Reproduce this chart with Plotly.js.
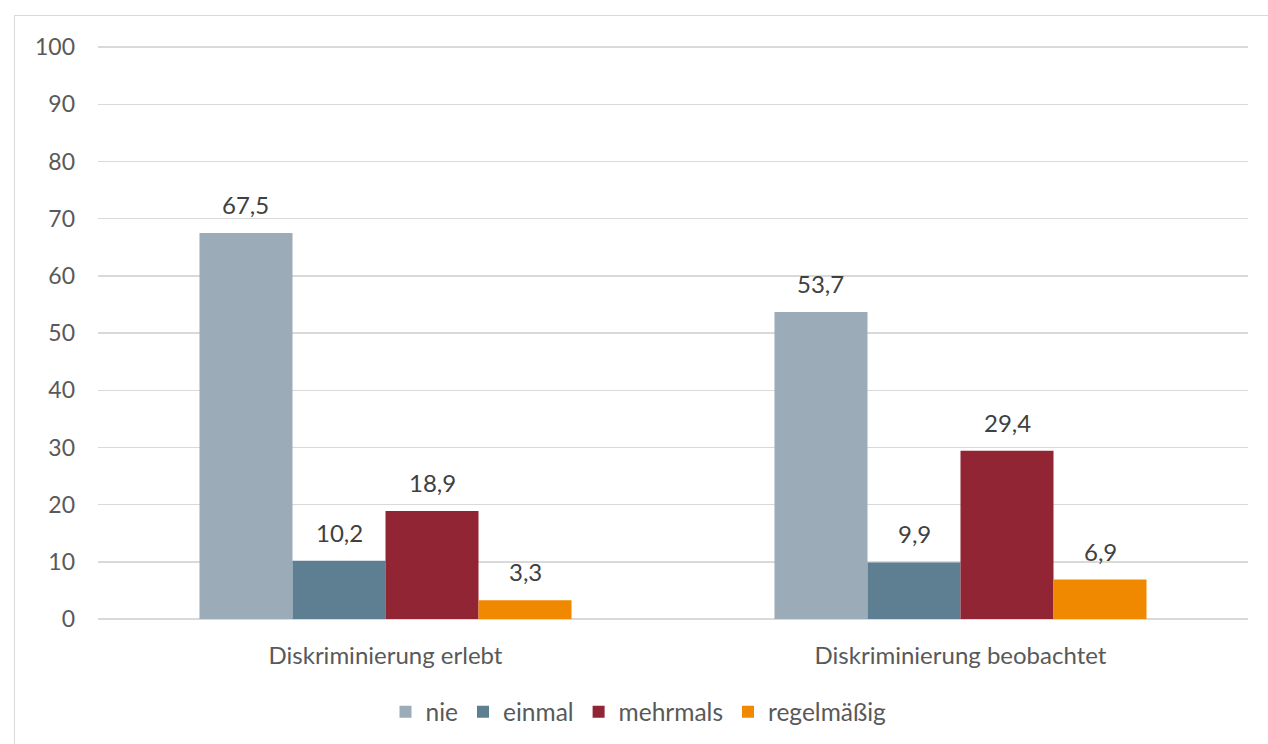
<!DOCTYPE html>
<html>
<head>
<meta charset="utf-8">
<script src="https://cdn.plot.ly/plotly-3.0.1.min.js"></script>
<style>
html, body { margin:0; padding:0; background:#fff; overflow:hidden; width:1268px; height:744px; }
#frame { position:absolute; left:14px; top:15px; width:1300px; height:800px; border:1.5px solid #D9D9D9; box-sizing:border-box; }
#chart { position:absolute; left:0; top:0; width:1268px; height:744px; }
</style>
</head>
<body>
<div id="frame"></div>
<div id="chart"></div>
<script>
const categories = ["Diskriminierung erlebt", "Diskriminierung beobachtet"];
const seriesNames = ["nie", "einmal", "mehrmals", "regelmäßig"];
const nie = [67.5, 53.7];
const einmal = [10.2, 9.9];
const mehrmals = [18.9, 29.4];
const regelmaessig = [3.3, 6.9];
const colors = ["#9BABB7", "#5E7F92", "#922533", "#F08800"];
const yTicks = [0, 10, 20, 30, 40, 50, 60, 70, 80, 90, 100];

const values = [nie, einmal, mehrmals, regelmaessig];
const FONT = "Lato, 'Open Sans', sans-serif";

const traces = values.map((v, i) => ({
  type: "bar",
  name: seriesNames[i],
  x: categories,
  y: v,
  marker: { color: colors[i], line: { width: 0 } },
  textposition: "none",
  hoverinfo: "skip"
}));

const annotations = [];
const n = values.length;
const groupWidth = 1 - 0.353;
values.forEach((v, i) => {
  v.forEach((val, c) => {
    const offset = -groupWidth / 2 + groupWidth / n * (i + 0.5);
    annotations.push({
      x: c + offset, y: val, xref: "x", yref: "y",
      text: val.toFixed(1).replace(".", ","),
      showarrow: false, yanchor: "bottom", yshift: 12,
      font: { family: FONT, size: 24, color: "#404040" }
    });
  });
});

const layout = {
  width: 1268, height: 744,
  margin: { l: 98, r: 20, t: 46, b: 125, autoexpand: false },
  paper_bgcolor: "rgba(0,0,0,0)",
  plot_bgcolor: "rgba(0,0,0,0)",
  separators: ", ",
  barmode: "group",
  bargap: 0.353,
  bargroupgap: 0,
  font: { family: FONT, size: 24, color: "#595959" },
  xaxis: {
    type: "category", automargin: false,
    showgrid: false, showline: false, zeroline: false,
    ticks: "", ticklabelstandoff: 20,
    tickfont: { family: FONT, size: 24, color: "#595959" }
  },
  yaxis: {
    range: [0, 100.2], automargin: false,
    tickvals: yTicks,
    showgrid: true, gridcolor: "#D9D9D9", gridwidth: 1.5,
    zeroline: true, zerolinecolor: "#D9D9D9", zerolinewidth: 1.5,
    showline: false, ticks: "", ticklabelstandoff: 22,
    tickfont: { family: FONT, size: 23, color: "#595959" }
  },
  legend: {
    orientation: "h", x: 0.47, xanchor: "center", y: -0.162, yanchor: "middle",
    font: { family: FONT, size: 24.5, color: "#595959" },
    itemwidth: 30, tracegroupgap: 0
  },
  annotations: annotations,
  showlegend: true
};

Plotly.newPlot("chart", traces, layout, { displayModeBar: false, staticPlot: true });
</script>
</body>
</html>
